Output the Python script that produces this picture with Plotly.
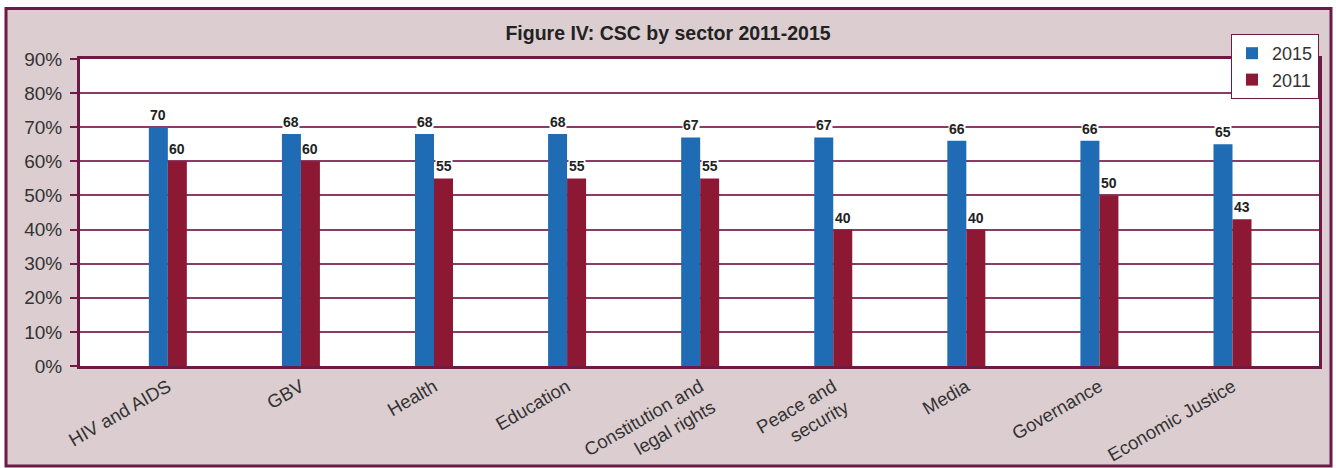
import plotly.graph_objects as go

# Sectors and CSC scores (percent) for the two survey years
sectors = ["HIV and AIDS", "GBV", "Health", "Education",
           "Constitution and<br>legal rights", "Peace and<br>security",
           "Media", "Governance", "Economic Justice"]
scores_2015 = [70, 68, 68, 68, 67, 67, 66, 66, 65]
scores_2011 = [60, 60, 55, 55, 55, 40, 40, 50, 43]
y_ticks = [0, 10, 20, 30, 40, 50, 60, 70, 80, 90]

BLUE = "#1f6bb4"
RED = "#8c1833"
MAROON = "#6d1a47"
GRID = "#8a3c66"
FRAME_BG = "#dccdd0"
TEXT = "#333333"
FONT = "Arial, Liberation Sans, sans-serif"

W, H = 1336, 468
L, R, T, B = 80, 17, 59, 102
pw, ph = W - L - R, H - T - B

fig = go.Figure()
fig.add_trace(go.Bar(name="2015", x=sectors, y=scores_2015,
                     marker=dict(color=BLUE, line=dict(width=0))))
fig.add_trace(go.Bar(name="2011", x=sectors, y=scores_2011,
                     marker=dict(color=RED, line=dict(width=0))))

# value labels above each bar, on a white patch that breaks the gridline
annotations = []
half = 9.5
for series, shift in ((scores_2015, -half), (scores_2011, half)):
    for cat, v in zip(sectors, series):
        annotations.append(dict(
            x=cat, y=v, xref="x", yref="y", text=f"<b>{v}</b>",
            showarrow=False, xshift=shift, yshift=3, yanchor="bottom",
            bgcolor="white", borderpad=0,
            font=dict(family=FONT, size=14, color="#222222"),
        ))


def px_x(p):
    return (p - L) / pw


def px_y(p):
    return (H - B - p) / ph


shapes = [
    # outer framed panel
    dict(type="rect", xref="paper", yref="paper", layer="below",
         x0=px_x(6), x1=px_x(1331), y0=px_y(466), y1=px_y(8.5),
         fillcolor=FRAME_BG, line=dict(color=MAROON, width=3)),
    # white plotting area
    dict(type="rect", xref="paper", yref="paper", layer="below",
         x0=0, x1=1, y0=0, y1=1, fillcolor="white",
         line=dict(color=MAROON, width=0)),
]

fig.update_layout(
    width=W, height=H,
    margin=dict(l=L, r=R, t=T, b=B, pad=0, autoexpand=False),
    paper_bgcolor="white",
    plot_bgcolor="white",
    barmode="group",
    bargap=0.7145,
    bargroupgap=0,
    font=dict(family=FONT, size=18, color=TEXT),
    title=dict(text="<b>Figure IV: CSC by sector 2011-2015</b>",
               x=0.5, xref="container", xanchor="center",
               y=1 - 33 / H, yref="container", yanchor="middle",
               font=dict(family=FONT, size=19.5, color="#222222")),
    legend=dict(x=px_x(1231), y=px_y(34), xanchor="left", yanchor="top",
                bgcolor="white", bordercolor=MAROON, borderwidth=1,
                font=dict(size=18, color=TEXT),
                tracegroupgap=0, itemwidth=30),
    xaxis=dict(range=[-0.66, 8.65], tickangle=-30, showgrid=False,
               showline=True, linecolor=MAROON, linewidth=3, mirror=True,
               ticks="", tickfont=dict(size=18.5, color=TEXT)),
    yaxis=dict(range=[0, 90], tickvals=y_ticks,
               ticktext=[f"{v}%" for v in y_ticks],
               showgrid=True, gridcolor=GRID, gridwidth=1.5,
               showline=True, linecolor=MAROON, linewidth=3, mirror=True,
               ticks="outside", ticklen=7, tickcolor=MAROON, tickwidth=1.5,
               ticklabelstandoff=4,
               tickfont=dict(size=19, color=TEXT), zeroline=False),
    annotations=annotations,
    shapes=shapes,
)

fig.write_html("out.html")
